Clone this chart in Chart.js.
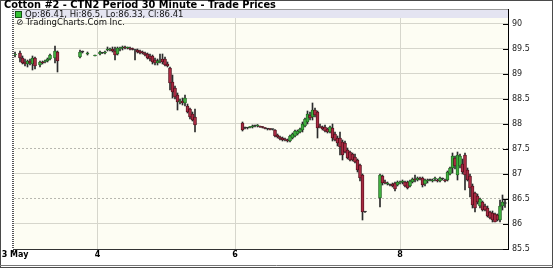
<!DOCTYPE html>
<html><head><meta charset="utf-8">
<script src="https://cdn.jsdelivr.net/npm/chart.js@4/dist/chart.umd.min.js"></script>
<style>
html,body{margin:0;padding:0;background:#fff;}
#wrap{position:relative;width:553px;height:268px;overflow:hidden;}
canvas{position:absolute;left:0;top:0;}
#title{position:absolute;left:4px;top:0px;font:bold 9.8px "DejaVu Sans";color:#000;white-space:nowrap;line-height:10px;}
#band{position:absolute;left:14px;top:10px;width:494px;height:8px;background:#e4e4f1;}
#sq{position:absolute;left:15px;top:11px;width:5px;height:5px;background:#33c033;border:1px solid #145214;}
#info1{position:absolute;left:25px;top:9px;font:8.5px "DejaVu Sans";color:#111;white-space:nowrap;line-height:10px;}
#info2{position:absolute;left:16px;top:17px;font:8.5px "DejaVu Sans";color:#111;white-space:nowrap;line-height:10px;}
</style></head>
<body>
<div id="wrap">
<canvas id="c" width="553" height="268"></canvas>
<div id="title">Cotton #2 - CTN2 Period 30 Minute - Trade Prices</div>
<div id="band"></div>
<div id="sq"></div>
<div id="info1">Op:86.41, Hi:86.5, Lo:86.33, Cl:86.41</div>
<div id="info2">⊘ TradingCharts.Com Inc.</div>
</div>
<script>
// bar number (30-minute slot) of each candle
const slots = [0,2,3,4,5,6,7,8,10,11,12,13,14,16,17,26,27,29,32,34,
35,36,37,38,39,40,41,42,43,44,45,46,47,48,49,50,51,52,53,54,55,56,57,58,59,60,61,62,63,64,65,66,67,68,69,70,71,72,
91,92,93,94,95,96,97,98,99,100,101,102,103,104,105,106,107,108,109,110,111,112,113,114,115,116,117,118,119,120,121,122,123,124,125,126,127,128,129,130,131,132,133,134,135,136,137,138,139,140,
146,147,148,149,150,151,152,153,154,155,156,157,158,159,160,161,162,163,164,165,166,167,168,169,170,171,172,173,174,175,176,177,178,179,180,181,182,183,184,185,186,187,188,189,190,191,192,193,194,195,196];
const opens = [89.38,89.42,89.32,89.24,89.20,89.26,89.20,89.32,89.18,89.24,89.24,89.26,89.30,89.32,89.44,89.34,89.44,89.40,89.36,89.40,
89.42,89.42,89.48,89.48,89.50,89.46,89.40,89.50,89.52,89.54,89.52,89.52,89.50,89.48,89.48,89.46,89.44,89.42,89.40,89.36,89.36,89.28,89.22,89.26,89.30,89.30,89.20,89.12,88.84,88.72,88.58,88.44,88.46,88.42,88.36,88.30,88.20,88.14,
88.02,87.92,87.92,87.93,87.94,87.96,87.96,87.95,87.94,87.92,87.90,87.90,87.89,87.88,87.78,87.74,87.72,87.70,87.68,87.66,87.72,87.76,87.80,87.84,87.88,87.96,88.04,88.18,88.14,88.28,88.24,87.96,87.94,87.94,87.90,87.84,87.92,87.80,87.72,87.72,87.64,87.62,87.48,87.44,87.40,87.34,87.28,87.18,86.98,86.24,
86.52,86.96,86.84,86.80,86.78,86.80,86.82,86.78,86.82,86.84,86.84,86.84,86.76,86.84,86.90,86.88,86.92,86.92,86.80,86.86,86.88,86.86,86.90,86.88,86.86,86.90,86.88,86.88,87.00,87.12,87.32,86.98,87.16,87.20,87.38,87.08,86.96,86.76,86.62,86.56,86.36,86.44,86.36,86.32,86.24,86.22,86.20,86.18,86.08,86.36,86.41];
const highs = [89.44,89.46,89.36,89.30,89.28,89.30,89.36,89.34,89.26,89.26,89.28,89.32,89.40,89.56,89.46,89.48,89.46,89.44,89.38,89.46,
89.43,89.46,89.54,89.52,89.54,89.54,89.54,89.54,89.56,89.56,89.54,89.54,89.52,89.48,89.50,89.48,89.46,89.44,89.42,89.40,89.38,89.32,89.30,89.40,89.40,89.34,89.24,89.14,88.98,88.76,88.62,88.50,88.52,88.58,88.40,88.32,88.24,88.30,
88.04,87.94,87.93,87.95,87.98,87.98,87.99,87.96,87.95,87.93,87.91,87.91,87.90,87.89,87.80,87.76,87.74,87.72,87.70,87.78,87.82,87.88,87.88,87.92,88.04,88.12,88.26,88.24,88.42,88.32,88.26,88.00,87.96,87.98,87.92,87.96,88.00,87.84,87.76,87.84,87.68,87.66,87.52,87.46,87.42,87.40,87.30,87.20,87.00,86.25,
87.00,86.98,86.88,86.84,86.80,86.82,86.84,86.86,86.86,86.88,86.86,86.86,86.88,86.92,86.98,86.94,86.94,86.94,86.90,86.90,86.90,86.90,86.94,86.90,86.94,86.92,86.90,87.06,87.14,87.42,87.36,87.44,87.40,87.30,87.42,87.12,87.00,86.80,86.64,86.60,86.52,86.46,86.40,86.36,86.26,86.26,86.22,86.20,86.48,86.58,86.50];
const lows = [89.34,89.24,89.20,89.16,89.14,89.18,89.08,89.10,89.14,89.20,89.22,89.24,89.28,89.22,89.04,89.32,89.42,89.38,89.36,89.38,
89.41,89.40,89.46,89.46,89.44,89.28,89.38,89.46,89.48,89.50,89.50,89.48,89.48,89.28,89.42,89.40,89.40,89.36,89.30,89.26,89.20,89.18,89.18,89.22,89.20,89.16,89.14,88.68,88.52,88.50,88.28,88.40,88.38,88.36,88.22,88.10,88.06,87.84,
87.86,87.90,87.90,87.92,87.92,87.94,87.94,87.93,87.92,87.90,87.88,87.88,87.88,87.74,87.72,87.68,87.66,87.66,87.64,87.64,87.70,87.74,87.78,87.82,87.84,87.94,88.00,88.08,88.08,88.14,87.72,87.92,87.88,87.84,87.82,87.82,87.66,87.66,87.56,87.38,87.28,87.42,87.30,87.26,87.26,87.22,87.04,86.86,86.08,86.23,
86.34,86.78,86.80,86.78,86.76,86.74,86.66,86.76,86.80,86.80,86.74,86.70,86.74,86.82,86.84,86.86,86.88,86.74,86.76,86.82,86.86,86.84,86.86,86.84,86.84,86.88,86.84,86.86,86.98,87.02,87.10,86.88,87.12,87.00,86.68,86.86,86.54,86.32,86.24,86.40,86.32,86.26,86.26,86.14,86.10,86.04,86.04,86.06,86.04,86.28,86.33];
const closes = [89.40,89.32,89.22,89.20,89.26,89.22,89.32,89.16,89.24,89.22,89.26,89.30,89.38,89.46,89.26,89.44,89.44,89.42,89.37,89.44,
89.42,89.44,89.50,89.50,89.46,89.38,89.52,89.52,89.54,89.52,89.53,89.50,89.49,89.48,89.44,89.42,89.42,89.38,89.32,89.30,89.24,89.22,89.26,89.28,89.24,89.18,89.16,88.82,88.64,88.54,88.44,88.46,88.42,88.52,88.24,88.14,88.08,87.98,
87.88,87.92,87.92,87.94,87.96,87.96,87.97,87.94,87.93,87.91,87.90,87.89,87.89,87.76,87.74,87.70,87.68,87.68,87.66,87.76,87.80,87.86,87.86,87.90,88.00,88.10,88.20,88.12,88.28,88.18,87.92,87.94,87.90,87.86,87.84,87.94,87.72,87.68,87.62,87.54,87.38,87.44,87.32,87.28,87.28,87.24,87.08,86.92,86.24,86.24,
86.98,86.82,86.82,86.82,86.78,86.76,86.70,86.84,86.84,86.86,86.76,86.72,86.86,86.90,86.88,86.92,86.90,86.78,86.88,86.88,86.88,86.88,86.92,86.86,86.92,86.90,86.86,87.04,87.12,87.36,87.16,87.38,87.36,87.04,86.98,86.88,86.72,86.38,86.32,86.44,86.50,86.28,86.28,86.16,86.12,86.08,86.04,86.08,86.36,86.44,86.41];

const xTickSlots = [0, 33, 88, 154];
const xTickLabels = ['3 May', '4', '6', '8'];
const yTicks = [85.5, 86, 86.5, 87, 87.5, 88, 88.5, 89, 89.5, 90];
const dottedLevels = [86.5, 87.5];

const UP = '#3fae3f', UP_EDGE = '#1d5e1d', DN = '#a82a42', DN_EDGE = '#4a0c18', FLAT = '#333';

const frame = {
  id: 'frame',
  beforeDraw(chart) {
    const {ctx, chartArea: a, width, height} = chart;
    ctx.save();
    ctx.fillStyle = '#fff'; ctx.fillRect(0, 0, width, height);
    ctx.fillStyle = '#fdfdf3'; ctx.fillRect(a.left, a.top, a.right - a.left, a.bottom - a.top);
    ctx.restore();
  },
  afterDraw(chart) {
    const {ctx, chartArea: a, width, height} = chart;
    const ys = chart.scales.y;
    ctx.save();
    ctx.strokeStyle = '#000'; ctx.lineWidth = 1;
    ctx.beginPath();
    yTicks.forEach(v => { const y = Math.round(ys.getPixelForValue(v)) + 0.5; ctx.moveTo(a.right - 5, y); ctx.lineTo(a.right, y); });
    ctx.stroke();
    ctx.strokeStyle = '#9a9a9a';
    ctx.beginPath(); ctx.moveTo(a.left, a.top + 0.5); ctx.lineTo(a.right, a.top + 0.5); ctx.stroke();
    ctx.strokeStyle = '#555'; ctx.lineWidth = 2; ctx.setLineDash([1, 1]);
    ctx.beginPath(); ctx.moveTo(a.left - 1, a.top); ctx.lineTo(a.left - 1, a.bottom); ctx.stroke();
    ctx.setLineDash([]);
    ctx.lineWidth = 1; ctx.strokeStyle = '#333';
    ctx.beginPath(); ctx.moveTo(a.left - 0.5, a.bottom); ctx.lineTo(a.left - 0.5, a.bottom + 3); ctx.stroke();
    ctx.strokeStyle = '#4a4a4a';
    ctx.strokeRect(0.5, 0.5, width - 1, height - 1);
    ctx.strokeStyle = '#777';
    ctx.beginPath(); ctx.moveTo(0, height - 2.5); ctx.lineTo(width, height - 2.5); ctx.stroke();
    ctx.restore();
  }
};

const bodyColor = c => { const i = c.dataIndex; return closes[i] > opens[i] ? UP : closes[i] < opens[i] ? DN : FLAT; };
const edgeColor = c => { const i = c.dataIndex; return closes[i] > opens[i] ? UP_EDGE : closes[i] < opens[i] ? DN_EDGE : FLAT; };

new Chart(document.getElementById('c'), {
  type: 'bar',
  data: {
    datasets: [
      { label: 'body', order: 0, grouped: false,
        data: slots.map((s, i) => ({x: s, y: [opens[i], closes[i]]})),
        backgroundColor: bodyColor, borderColor: edgeColor, borderWidth: 0.8, borderSkipped: false,
        barThickness: 3, minBarLength: 1 },
      { label: 'wick', order: 1, grouped: false,
        data: slots.map((s, i) => ({x: s, y: [lows[i], highs[i]]})),
        backgroundColor: '#2b2b2b', borderWidth: 0, barThickness: 1, minBarLength: 1 }
    ]
  },
  options: {
    responsive: false, animation: false, devicePixelRatio: 1,
    layout: {padding: {left: 14, top: 9, right: 0, bottom: 0}},
    plugins: {legend: {display: false}, tooltip: {enabled: false}},
    scales: {
      x: {
        type: 'linear', min: -0.4, max: 197.2, offset: false,
        afterBuildTicks: s => { s.ticks = xTickSlots.map(v => ({value: v})); },
        afterFit: s => { s.height = 19; s.paddingLeft = 0; s.paddingRight = 0; },
        ticks: {autoSkip: false, maxRotation: 0, padding: 1, color: '#000',
          font: {family: 'DejaVu Sans', size: 8, weight: 'bold'},
          callback: v => { const k = xTickSlots.indexOf(v); return k >= 0 ? xTickLabels[k] : ''; }},
        grid: {color: c => (c.tick && c.tick.value === xTickSlots[0]) ? 'rgba(0,0,0,0)' : '#d6d6cc', drawTicks: false, offset: false},
        border: {color: '#333', width: 1}
      },
      y: {
        position: 'right', min: 85.5, max: 90.3,
        afterBuildTicks: s => { s.ticks = yTicks.map(v => ({value: v})); },
        afterFit: s => { s.width = 45; },
        ticks: {padding: 4, color: '#222', font: {family: 'DejaVu Sans', size: 8},
          callback: v => String(v)},
        grid: {color: c => (c.tick && dottedLevels.includes(c.tick.value)) ? '#b8b8b0' : '#d6d6cc', drawTicks: false},
        border: {color: '#000', width: 1, dash: c => (c.tick && dottedLevels.includes(c.tick.value)) ? [2, 2] : []}
      }
    }
  },
  plugins: [frame]
});
</script>
</body></html>
